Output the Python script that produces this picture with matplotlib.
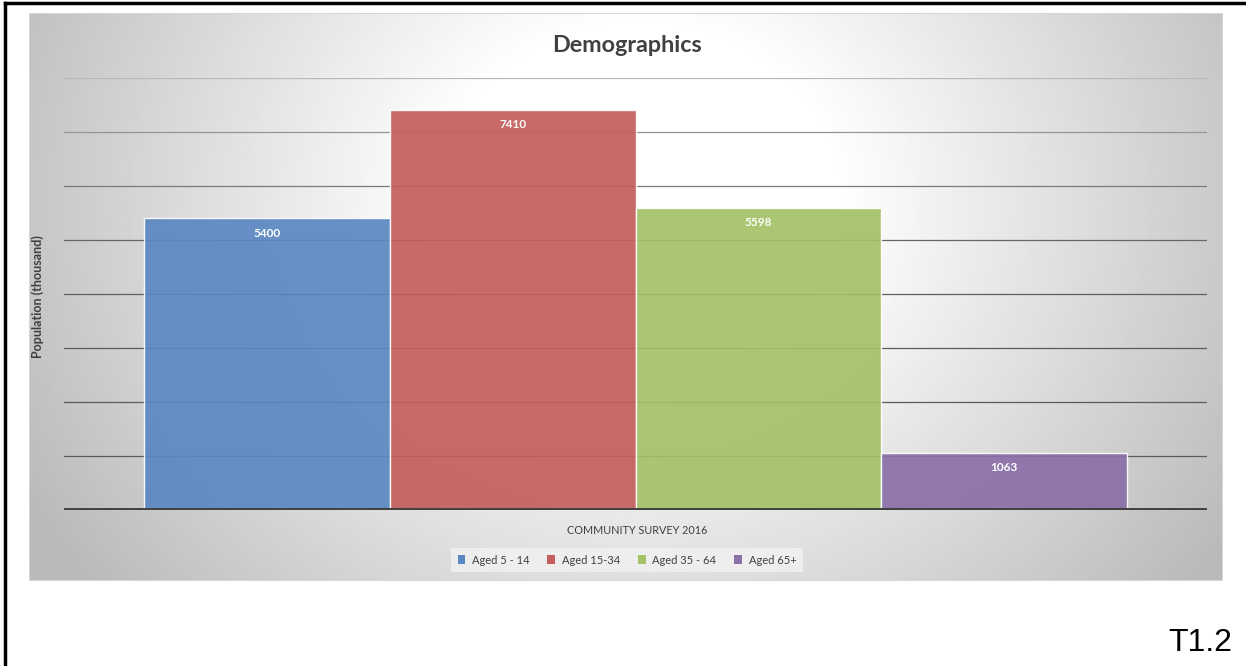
import numpy as np
import matplotlib.pyplot as plt
from matplotlib.patches import Patch, Rectangle
from matplotlib.lines import Line2D

# data
series = ['Aged 5 - 14', 'Aged 15-34', 'Aged 35 - 64', 'Aged 65+']
values = [5400, 7410, 5598, 1063]
colors = ['#5a88c2', '#c45e5b', '#a3c166', '#8a6fa8']
category = 'COMMUNITY SURVEY 2016'
yticks = [1000, 2000, 3000, 4000, 5000, 6000, 7000, 8000]

plt.rcParams['font.family'] = ['Lato', 'DejaVu Sans']
W, H = 1246, 666
fig = plt.figure(figsize=(W / 100, H / 100), dpi=100)


def fx(px):
    return px / W


def fy(py):
    return 1 - py / H


# chart area with radial gradient
cx0, cy0, cx1, cy1 = 29, 13, 1223, 581
bg = fig.add_axes([fx(cx0), fy(cy1), fx(cx1) - fx(cx0), fy(cy0) - fy(cy1)])
py, px = np.mgrid[cy0:cy1:300j, cx0:cx1:600j]
d = np.sqrt(((px - 640) / 700) ** 2 + ((py - 200) / 620) ** 2)
g = 1 - 0.27 * np.clip((d - 0.28) / 0.72, 0, 1)
bg.imshow(g, cmap='gray', vmin=0, vmax=1, aspect='auto', extent=[0, 1, 0, 1])
bg.set_xticks([])
bg.set_yticks([])
for s in bg.spines.values():
    s.set_visible(False)
bg.add_patch(Rectangle((0, 0), 1, 1, transform=bg.transAxes, fill=False,
                       edgecolor='#d6d6d6', lw=1.5))

# plot area
ax = fig.add_axes([fx(64), fy(510), fx(1207) - fx(64), fy(78) - fy(510)])
ax.patch.set_visible(False)
x = np.arange(len(values))
pad = 80 / 245.5
ax.set_xlim(-0.5 - pad, len(values) - 0.5 + pad)
ax.set_ylim(0, 8000)
grid_cols = ['#5a5a5a', '#5a5a5a', '#5a5a5a', '#5e5e5e', '#666666',
             '#7a7a7a', '#959595', '#b8b8b8']
for t, c in zip(yticks, grid_cols):
    ax.axhline(t, color=c, lw=0.9, zorder=1)
ax.bar(x, values, width=1.0, color=colors, alpha=0.92,
       edgecolor=(1, 1, 1, 0.25), linewidth=1, zorder=2)
ax.axhline(0, color='#404040', lw=2.8, zorder=3)
for i, v in enumerate(values):
    ax.text(i, v - 280, str(v), ha='center', va='center', color='white',
            fontsize=8.5, fontweight='bold', zorder=4)
ax.set_xticks([])
ax.set_yticks([])
for s in ax.spines.values():
    s.set_visible(False)

# texts
fig.text(fx(627), fy(46), 'Demographics', ha='center', va='center',
         fontsize=16.8, fontweight='bold', color='#404040')
fig.text(fx(38), fy(297), 'Population (thousand)', ha='center', va='center',
         rotation=90, fontsize=9, fontweight='bold', color='#404040')
fig.text(fx(637), fy(530), category, ha='center', va='center',
         fontsize=7.8, color='#404040')

handles = [Patch(facecolor=c, edgecolor='none') for c in colors]
leg = fig.legend(handles, series, loc='center', bbox_to_anchor=(fx(627), fy(560)),
                 ncol=4, fontsize=8, frameon=True, facecolor='#f2f2f2',
                 edgecolor='none', framealpha=0.8, handlelength=0.7,
                 handleheight=0.8, handletextpad=0.6, columnspacing=1.6,
                 borderpad=0.6, fancybox=False)
for t in leg.get_texts():
    t.set_color('#404040')

fig.text(fx(1232), fy(651), 'T1.2', ha='right', va='baseline',
         fontsize=23, family='Liberation Sans', color='black')

# outer page border (left and top only)
fig.add_artist(Line2D([fx(5), fx(5)], [0, fy(3)], color='black', lw=2.5))
fig.add_artist(Line2D([fx(5), 1], [fy(3), fy(3)], color='black', lw=2.5))

fig.savefig('out.png', dpi=100)
